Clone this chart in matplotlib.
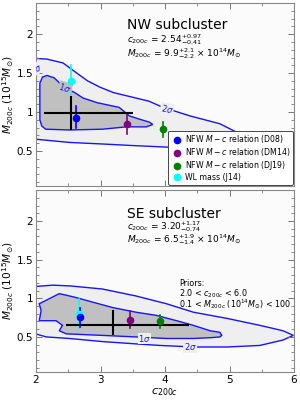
# c200c - M200c constraints for the two subclusters
# shaded 1 and 2 sigma regions, best fit cross, M-c relation points

import numpy as np
import matplotlib
matplotlib.use("Agg")
import matplotlib.pyplot as plt
from matplotlib.lines import Line2D
from matplotlib.ticker import MultipleLocator, FormatStrFormatter

# ---- NW subcluster ----
nw_2sig_c = [1.95, 2.17, 2.42, 2.6, 2.8, 2.99, 3.2, 3.5, 3.75, 3.97, 4.39, 4.85, 5.16, 5.32, 5.6, 6.1,
             6.1, 5.5, 4.03, 3.5, 3.03, 2.52, 1.95]
nw_2sig_m = [1.69, 1.68, 1.63, 1.52, 1.40, 1.32, 1.25, 1.19, 1.14, 1.06, 0.95, 0.85, 0.72, 0.66, 0.60, 0.55,
             0.50, 0.52, 0.55, 0.57, 0.59, 0.61, 0.655]
nw_1sig_c = [2.06, 2.10, 2.17, 2.28, 2.37, 2.48, 2.6, 2.73, 2.95, 3.29, 3.45, 3.60, 3.76, 3.81,
             3.71, 3.40, 3.03, 2.52, 2.15, 2.09, 2.06]
nw_1sig_m = [1.37, 1.45, 1.47, 1.44, 1.37, 1.30, 1.25, 1.18, 1.12, 1.06, 0.95, 0.91, 0.87, 0.84,
             0.81, 0.81, 0.78, 0.77, 0.78, 0.82, 0.90]
nw_best = (2.54, 0.99)
nw_best_cerr = (0.41, 0.97)
nw_best_merr = (0.22, 0.21)

# ---- SE subcluster ----
se_2sig_c = [1.95, 2.26, 2.53, 3.03, 3.55, 4.02, 4.44, 4.96, 5.47, 5.83, 5.99,
             5.83, 5.47, 4.96, 4.44, 3.92, 3.55, 3.03, 2.52, 2.16, 1.95]
se_2sig_m = [1.15, 1.17, 1.16, 1.12, 1.03, 0.93, 0.82, 0.74, 0.65, 0.58, 0.52,
             0.46, 0.39, 0.37, 0.37, 0.39, 0.41, 0.44, 0.48, 0.50, 0.55]
se_1sig_c = [2.05, 2.10, 2.36, 2.47, 2.62, 2.88, 3.19, 3.55, 3.86, 4.18, 4.44, 4.70, 4.85, 4.88, 4.85,
             4.70, 4.44, 4.02, 3.55, 3.03, 2.47, 2.36, 2.41, 2.31, 2.05, 2.08]
se_1sig_m = [0.93, 0.95, 1.06, 1.04, 1.01, 0.95, 0.88, 0.82, 0.78, 0.71, 0.65, 0.58, 0.56, 0.52, 0.50,
             0.49, 0.48, 0.48, 0.50, 0.52, 0.54, 0.58, 0.65, 0.71, 0.71, 0.84]
se_best = (3.20, 0.66)
se_best_cerr = (0.74, 1.17)
se_best_merr = (0.14, 0.19)

# M-c relation points: D08, DM14, DJ19, J14 -> (c, M, M_lo, M_hi)
labels = [r"NFW $M-c$ relation (D08)", r"NFW $M-c$ relation (DM14)",
          r"NFW $M-c$ relation (DJ19)", "WL mass (J14)"]
colors = ["blue", "purple", "green", "cyan"]
nw_pts_c = [2.62, 3.41, 3.97, 2.54]
nw_pts_m = [0.93, 0.85, 0.78, 1.40]
nw_pts_lo = [0.79, 0.72, 0.68, 1.19]
nw_pts_hi = [1.08, 0.98, 0.87, 1.60]
se_pts_c = [2.68, 3.46, 3.92, 2.66]
se_pts_m = [0.76, 0.72, 0.70, 0.80]
se_pts_lo = [0.63, 0.61, 0.62, 0.61]
se_pts_hi = [0.88, 0.84, 0.79, 0.99]

line_blue = "#1515ff"


def style_axes(ax):
    ax.set_facecolor("#fbfbfb")
    ax.set_xlim(2, 6)
    ax.set_ylim(0.05, 2.4)
    ax.xaxis.set_major_locator(MultipleLocator(1))
    ax.xaxis.set_minor_locator(MultipleLocator(0.5))
    ax.yaxis.set_major_locator(MultipleLocator(0.5))
    ax.yaxis.set_minor_locator(MultipleLocator(0.1))
    ax.yaxis.set_major_formatter(FormatStrFormatter("%g"))
    ax.tick_params(which="both", direction="in", top=True, right=True, colors="#777777",
                   labelcolor="black", labelsize=7.5, pad=2)
    ax.tick_params(which="major", length=4, width=0.7)
    ax.tick_params(which="minor", length=2, width=0.6)
    for s in ax.spines.values():
        s.set_color("#888888")
        s.set_linewidth(0.8)
    ax.set_ylabel(r"$M_{200c}$ ($10^{15}M_{\odot}$)", fontsize=7.6)
    ax.yaxis.set_label_coords(-0.078, 0.5)


def draw_panel(ax, c2, m2, c1, m1, best, cerr, merr, pc, pm, plo, phi):
    ax.fill(c2, m2, facecolor="#efefef", edgecolor=line_blue, lw=1.0, zorder=1)
    ax.fill(c1, m1, facecolor="#c0c0c0", edgecolor=line_blue, lw=1.0, zorder=2)
    # points, cyan first so the others sit above
    for i in [3, 0, 1, 2]:
        ax.plot([pc[i], pc[i]], [plo[i], phi[i]], color=colors[i], lw=1.2, zorder=3)
        ax.plot(pc[i], pm[i], "o", color=colors[i], ms=4.5, zorder=5)
    ax.errorbar(best[0], best[1], xerr=[[cerr[0]], [cerr[1]]], yerr=[[merr[0]], [merr[1]]],
                fmt="none", ecolor="black", elinewidth=1.5, capsize=0, zorder=4)


fig = plt.figure(figsize=(3.0, 4.01), dpi=100)
ax1 = fig.add_axes([0.12, 0.536, 0.86, 0.4565])
ax2 = fig.add_axes([0.12, 0.073, 0.86, 0.453])

for ax in (ax1, ax2):
    style_axes(ax)

draw_panel(ax1, nw_2sig_c, nw_2sig_m, nw_1sig_c, nw_1sig_m, nw_best, nw_best_cerr, nw_best_merr,
           nw_pts_c, nw_pts_m, nw_pts_lo, nw_pts_hi)
draw_panel(ax2, se_2sig_c, se_2sig_m, se_1sig_c, se_1sig_m, se_best, se_best_cerr, se_best_merr,
           se_pts_c, se_pts_m, se_pts_lo, se_pts_hi)

ax1.tick_params(labelbottom=False)
ax2.set_xlabel(r"$c_{200c}$", fontsize=8, labelpad=1)

# contour labels
lab = dict(color=line_blue, fontsize=6, ha="center", va="center", zorder=3,
           bbox=dict(boxstyle="square,pad=0.05", fc="#efefef", ec="none"))
ax1.text(4.03, 1.04, r"$2\sigma$", rotation=-12, **lab)
ax1.text(2.45, 1.31, r"$1\sigma$", rotation=-18, **dict(lab, bbox=dict(boxstyle="square,pad=0.05", fc="#c0c0c0", ec="none")))
ax1.text(1.99, 1.55, r"$1\sigma$", rotation=30, clip_on=True, **lab)
ax2.text(3.68, 0.48, r"$1\sigma$", **lab)
ax2.text(4.39, 0.37, r"$2\sigma$", **lab)

# annotations
ax1.text(0.353, 0.88, "NW subcluster", transform=ax1.transAxes, fontsize=10, va="center")
ax1.text(0.353, 0.80, r"$c_{200c}$ = 2.54$^{+0.97}_{-0.41}$", transform=ax1.transAxes,
         fontsize=6.5, va="center")
ax1.text(0.353, 0.725, r"$M_{200c}$ = 9.9$^{+2.1}_{-2.2}$ $\times$ 10$^{14}M_{\odot}$",
         transform=ax1.transAxes, fontsize=6.5, va="center")
ax2.text(0.353, 0.87, "SE subcluster", transform=ax2.transAxes, fontsize=10, va="center")
ax2.text(0.353, 0.80, r"$c_{200c}$ = 3.20$^{+1.17}_{-0.74}$", transform=ax2.transAxes,
         fontsize=6.5, va="center")
ax2.text(0.353, 0.725, r"$M_{200c}$ = 6.5$^{+1.9}_{-1.4}$ $\times$ 10$^{14}M_{\odot}$",
         transform=ax2.transAxes, fontsize=6.5, va="center")
ax2.text(0.554, 0.488, "Priors:", transform=ax2.transAxes, fontsize=5.8, va="center")
ax2.text(0.554, 0.430, r"2.0 < $c_{200c}$ < 6.0", transform=ax2.transAxes, fontsize=5.8, va="center")
ax2.text(0.554, 0.370, r"0.1 < $M_{200c}$ (10$^{14}M_{\odot}$) < 100", transform=ax2.transAxes,
         fontsize=5.8, va="center")

handles = [Line2D([], [], marker="o", ls="none", color=c, ms=4.5) for c in colors]
leg = ax1.legend(handles, labels, loc="lower right", fontsize=5.6, frameon=True, fancybox=True,
                 framealpha=1, edgecolor="#444444", borderaxespad=0.15, handletextpad=0.3,
                 labelspacing=0.12, borderpad=0.35, handlelength=1.5)
leg.get_frame().set_linewidth(0.7)
leg.set_zorder(10)

fig.savefig("out.png", dpi=100)
